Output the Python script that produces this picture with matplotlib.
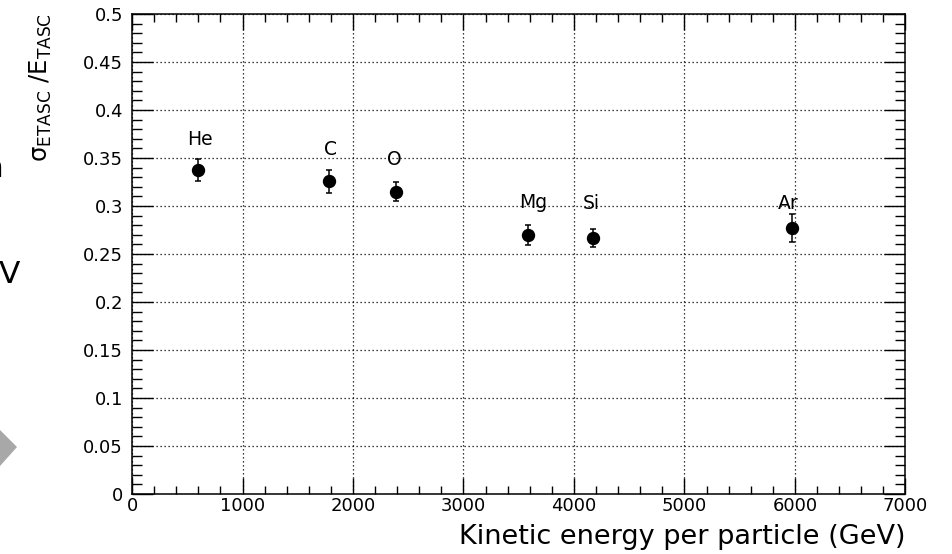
import matplotlib
matplotlib.use("Agg")
import matplotlib.pyplot as plt
from matplotlib.patches import Polygon

# the reference text is a horizontally stretched Helvetica; DejaVu Sans is
# wider than Arial, so it matches the widths better at the same height
plt.rcParams['font.family'] = ['DejaVu Sans']
plt.rcParams['mathtext.fontset'] = 'dejavusans'
plt.rcParams['mathtext.default'] = 'regular'

# data
elements = ["He", "C", "O", "Mg", "Si", "Ar"]
energy = [595, 1785, 2385, 3580, 4175, 5970]
resolution = [0.3375, 0.326, 0.315, 0.2695, 0.2665, 0.2775]
res_err = [0.0115, 0.012, 0.0095, 0.0105, 0.0095, 0.0145]
# label anchor (centre x, baseline y) in data units
label_x = [615, 1796, 2376, 3629, 4158, 5937]
label_y = [0.3635, 0.353, 0.3427, 0.2979, 0.297, 0.297]

W, H = 953, 554
fig = plt.figure(figsize=(W / 100, H / 100), dpi=100)
ax = fig.add_axes([132 / W, 1 - 494 / H, (905.5 - 132) / W, (494 - 14) / H])

ax.errorbar(energy, resolution, yerr=res_err, fmt='o', color='black',
            markersize=8.6, elinewidth=1.1, capsize=2.2, capthick=1.1, zorder=3)

for name, x, y in zip(elements, label_x, label_y):
    ax.text(x, y, name, ha='center', va='baseline', fontsize=13.5)

ax.set_xlim(0, 7000)
ax.set_ylim(0, 0.5)
ax.set_xticks(range(0, 7001, 1000))
ax.set_xticks(range(0, 7001, 200), minor=True)
yt = [i * 0.05 for i in range(11)]
ax.set_yticks(yt)
ax.set_yticklabels(['0', '0.05', '0.1', '0.15', '0.2', '0.25', '0.3', '0.35',
                    '0.4', '0.45', '0.5'])
ax.set_yticks([i * 0.01 for i in range(51)], minor=True)

ax.grid(True, which='major', color='black', linestyle=(0, (1, 2.2)), linewidth=0.9)
ax.set_axisbelow(True)

ax.tick_params(axis='both', which='both', direction='in', top=True, right=True,
               labelsize=13, width=1.0)
ax.tick_params(axis='x', which='major', length=11.5, pad=2)
ax.tick_params(axis='x', which='minor', length=5.5)
ax.tick_params(axis='y', which='major', length=15, pad=6.5)
ax.tick_params(axis='y', which='minor', length=7.5)
for s in ax.spines.values():
    s.set_linewidth(1.1)

ax.set_xlabel('Kinetic energy per particle (GeV)', fontsize=19.5, loc='right')
ax.xaxis.set_label_coords(1.0, -0.062)
ax.xaxis.label.set_va('top')

# ROOT draws the inner subscript TASC barely smaller than E, so keep them level
ax.set_ylabel(r'$\sigma_{ETASC}$ /E$_{TASC}$', fontsize=17.5, loc='top')
ax.yaxis.set_label_coords(-0.101, 1.002)

# fragments of the surrounding slide at the left edge
fig.text(3 / W, 1 - 177 / H, 'n', ha='right', va='baseline', fontsize=22.5)
fig.text(-1 / W, 1 - 283 / H, 'V', ha='left', va='baseline', fontsize=22.5)
arrow = Polygon([(0, 1 - 430 / H), (17 / W, 1 - 447 / H), (0, 1 - 466 / H)],
                closed=True, transform=fig.transFigure, facecolor='#a8a8a8',
                edgecolor='none')
fig.patches.append(arrow)

fig.savefig('out.png', dpi=100)
